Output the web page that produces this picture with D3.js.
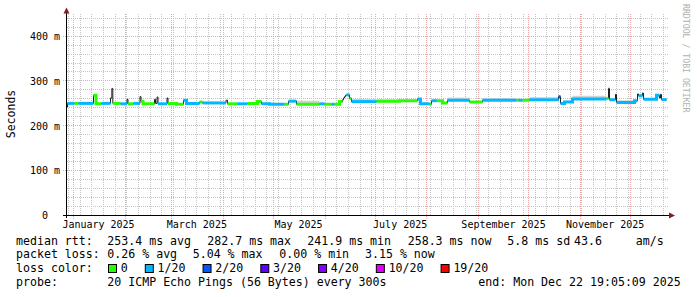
<!DOCTYPE html>
<html>
<head>
<meta charset="utf-8">
<script src="https://cdn.jsdelivr.net/npm/d3@7"></script>
<style>
body { margin: 0; background: #fff; }
svg { display: block; font-family: "DejaVu Sans Mono", monospace; }
</style>
</head>
<body>
<svg id="chart" width="697" height="297"></svg>
<script>
// loss buckets of the median line
var lossLabels = ["0", "1/20", "2/20", "3/20", "4/20", "10/20", "19/20"];
var lossColors = ["#26ff00", "#00b8ff", "#0059ff", "#5e00ff", "#7e00ff", "#dd00ff", "#ff0000"];

// axis ticks
var yTickValues = [0, 100, 200, 300, 400];
var yTickLabels = ["0  ", "100 m", "200 m", "300 m", "400 m"];
var xTickMonths = ["2025-01", "2025-03", "2025-05", "2025-07", "2025-09", "2025-11"];
var xTickLabels = ["January 2025", "March 2025", "May 2025", "July 2025", "September 2025", "November 2025"];

// median rtt as steps: start day (days since 2025-01-01), median ms, loss bucket, smoke top ms
var stepDay = [-4.2, -3.6, 0.6, 3.0, 12.0, 13.5, 16.8, 22.2, 23.0, 23.6, 28.2, 32.1, 32.7, 36.0, 39.9, 40.5,
  41.7, 48.6, 49.2, 50.1, 50.7, 56.1, 56.7, 61.8, 66.0, 67.8, 75.6, 77.4, 91.5, 92.4, 98.4, 104.4,
  110.4, 112.8, 117.6, 126.6, 129.0, 133.8, 147.6, 150.6, 154.8, 156.6, 159.6, 161.4, 162.0, 162.6,
  163.2, 163.8, 165.6, 166.8, 181.8, 195.6, 206.4, 208.2, 213.6, 214.8, 218.0, 221.4, 224.4, 237.6,
  245.4, 265.8, 267.0, 269.4, 273.6, 291.0, 292.2, 294.6, 299.4, 319.8, 321.0, 321.6, 325.2, 325.8,
  336.6, 338.4, 339.0, 341.4, 342.0, 349.8, 351.6, 352.2, 352.8];
var medianMs = [242, 250, 250, 250, 268, 249, 250, 262, 283, 250, 249, 259, 249, 250, 265, 255,
  249, 259, 250, 264, 249, 262, 250, 248, 257, 250, 253, 251, 257, 249, 249, 250,
  254, 249, 248, 248, 255, 248, 249, 248, 248, 248, 254, 258, 262, 265,
  268, 269, 261, 254, 255, 256, 260, 249, 248, 256, 256, 251, 257, 253,
  257, 257, 257, 257, 258, 265, 250, 253, 260, 261, 283, 258, 270, 252,
  256, 271, 267, 273, 259, 268, 262, 270, 258.3];
var lossIdx = [1, 1, 0, 1, 0, 0, 1, 1, 0, 0, 1, 0, 0, 1, 0, 0,
  0, 1, 1, 0, 1, 0, 0, 0, 1, 1, 0, 1, 1, 0, 1, 0,
  0, 1, 1, 0, 1, 0, 1, 0, 1, 0, 0, 0, 0, 0,
  0, 1, 0, 1, 0, 0, 1, 1, 0, 1, 0, 0, 1, 0,
  1, 0, 1, 0, 1, 2, 1, 1, 1, 0, 1, 1, 1, 1,
  1, 1, 1, 1, 1, 1, 1, 1, 1];
var smokeMs = [243, 251, 251, 251, 269, 250, 251, 263, 285, 251, 250, 260, 250, 251, 266, 256,
  250, 260, 251, 265, 250, 263, 251, 249, 258, 251, 254, 252, 258, 250, 250, 251,
  255, 250, 249, 249, 256, 256, 250, 249, 249, 249, 255, 259, 263, 266,
  269, 271, 262, 260, 259, 258, 261, 250, 249, 257, 257, 252, 263, 254,
  262, 259, 260, 260, 264, 266, 252, 256, 267, 263, 288, 261, 271, 257,
  258, 272, 268, 274, 262, 269, 263, 271, 261];

// legend figures
var rttStats = ["253.4 ms avg", "282.7 ms max", "241.9 ms min", "258.3 ms now", "5.8 ms sd", "43.6", "am/s"];
var lossStats = ["0.26 % avg", "5.04 % max", "0.00 % min", "3.15 % now"];
var probeText = "20 ICMP Echo Pings (56 Bytes) every 300s";
var endText = "end: Mon Dec 22 19:05:09 2025";

var DAY = 86400000;
var jan1 = Date.UTC(2025, 0, 1);
var tEnd = new Date(Date.UTC(2025, 11, 22, 19, 5, 9));
var tStart = new Date(tEnd.getTime() - 360 * DAY);
function dayToDate(d) { return new Date(jan1 + d * DAY); }
function crisp(v) { return Math.round(v - 0.5) + 0.5; }

var x = d3.scaleUtc().domain([tStart, tEnd]).range([66.5, 666.5]);
var y = d3.scaleLinear().domain([0, 450]).range([215.5, 13.7]);

var svg = d3.select("#chart");
svg.append("rect").attr("width", 697).attr("height", 297).attr("fill", "#fff");

// grid: dotted lines, one pixel on and one off
var majorX = x.ticks(d3.utcMonth);
var majorPx = majorX.map(function (d) { return crisp(x(d)); });
var minorX = x.ticks(d3.utcSunday).filter(function (d) {
  return majorPx.indexOf(crisp(x(d))) < 0;
});
var minorY = y.ticks(22).filter(function (v) { return v > 0 && v % 100 !== 0; });
var majorY = yTickValues.filter(function (v) { return v > 0; });
var grid = svg.append("g");
function hLines(vals, x0, color) {
  grid.append("g").selectAll("path").data(vals).enter().append("path")
    .attr("d", function (d) { var py = crisp(y(d)); return "M" + x0 + "," + py + "H668"; })
    .attr("stroke", color).attr("stroke-dasharray", "1,1").attr("fill", "none");
}
function vLines(vals, y1, color) {
  grid.append("g").selectAll("path").data(vals).enter().append("path")
    .attr("d", function (d) { var px = crisp(x(d)); return "M" + px + ",14V" + y1; })
    .attr("stroke", color).attr("stroke-dasharray", "1,1").attr("fill", "none");
}
hLines(minorY, 67, "#c4c4c4");
vLines(minorX, 215, "#c4c4c4");
hLines(majorY, 63, "#eaa8a8");
vLines(majorX, 219, "#eaa8a8");

// segments of the median series
var endDay = (tEnd.getTime() - jan1) / DAY;
var segs = stepDay.map(function (d, i) {
  return {
    t0: dayToDate(d),
    t1: dayToDate(i + 1 < stepDay.length ? stepDay[i + 1] : endDay),
    v: medianMs[i], loss: lossIdx[i], smoke: smokeMs[i]
  };
});

// smoke
svg.append("g").selectAll("rect").data(segs).enter().append("rect")
  .attr("x", function (s) { return x(s.t0); })
  .attr("width", function (s) { return x(s.t1) - x(s.t0); })
  .attr("y", function (s) { return y(s.smoke); })
  .attr("height", function (s) { return Math.max(0, y(s.v) - y(s.smoke)); })
  .attr("fill", "#d2d2d2");

// thin dark median line
var stepLine = d3.line().curve(d3.curveStepAfter)
  .x(function (p) { return x(p.t); })
  .y(function (p) { return y(p.v); });
var allPts = segs.map(function (s) { return { t: s.t0, v: s.v }; });
allPts.push({ t: tEnd, v: segs[segs.length - 1].v });
svg.append("path").attr("d", stepLine(allPts))
  .attr("fill", "none").attr("stroke", "#202020").attr("stroke-width", 1);

// coloured runs by loss bucket
var runs = [], cur = null;
segs.forEach(function (s, i) {
  if (x(s.t1) - x(s.t0) < 1.8) { cur = null; return; }
  if (cur && cur.loss === s.loss && cur.last === i - 1) {
    cur.segs.push(s); cur.last = i;
  } else {
    cur = { loss: s.loss, segs: [s], last: i };
    runs.push(cur);
  }
});
svg.append("g").selectAll("path").data(runs).enter().append("path")
  .attr("d", function (r) {
    var pts = r.segs.map(function (s) { return { t: s.t0, v: s.v }; });
    var last = r.segs[r.segs.length - 1];
    pts.push({ t: last.t1, v: last.v });
    return stepLine(pts);
  })
  .attr("fill", "none")
  .attr("stroke", function (r) { return lossColors[r.loss]; })
  .attr("stroke-width", 3);

// axes
var axes = svg.append("g").attr("shape-rendering", "crispEdges");
axes.append("line").attr("x1", 63).attr("x2", 670).attr("y1", 215.5).attr("y2", 215.5).attr("stroke", "#000");
axes.append("line").attr("x1", 66.5).attr("x2", 66.5).attr("y1", 13).attr("y2", 218).attr("stroke", "#000");
svg.append("path").attr("d", "M63.5,13.5L66.5,7.5L69.5,13.5Z").attr("fill", "#7f1f1f");
svg.append("path").attr("d", "M669,212.5L675,215.5L669,218.5Z").attr("fill", "#7f1f1f");

// y tick labels
svg.append("g").selectAll("text").data(yTickValues).enter().append("text")
  .attr("x", 60).attr("y", function (d) { return y(d) + 3.8; })
  .attr("text-anchor", "end").style("white-space", "pre")
  .attr("font-size", 10).attr("fill", "#000")
  .text(function (d, i) { return yTickLabels[i]; });

// x tick labels, centred half a month after the month start
var xLabelDates = xTickMonths.map(function (m) {
  var p = m.split("-");
  return new Date(Date.UTC(+p[0], +p[1] - 1, 1) + 15 * DAY);
});
svg.append("g").selectAll("text").data(xLabelDates).enter().append("text")
  .attr("x", function (d) { return x(d); }).attr("y", 228)
  .attr("text-anchor", "middle").attr("font-size", 10).attr("fill", "#000")
  .text(function (d, i) { return xTickLabels[i]; });

// y title
svg.append("text").attr("transform", "translate(14.5,114) rotate(-90)")
  .attr("text-anchor", "middle").attr("font-size", 11.5).attr("fill", "#000")
  .text("Seconds");

// watermark
svg.append("text").attr("transform", "translate(683,4) rotate(90)")
  .attr("font-size", 8.2).attr("fill", "#b0b0b0")
  .text("RRDTOOL / TOBI OETIKER");

// legend
var CW = 6.99;
var lg = svg.append("g").attr("font-size", 11.6).attr("fill", "#000").style("white-space", "pre");
function put(tx, px, py) { lg.append("text").attr("x", px).attr("y", py).text(tx); }
put("median rtt:", 16, 244.5);
var rttX = [107.3, 207.3, 307.3, 407.7, 507.3, 574, 635.7];
rttStats.forEach(function (s, i) { put(s, rttX[i], 244.5); });
put("packet loss:", 16, 258.3);
var lossX = [107.3, 192.7, 279.3, 365];
lossStats.forEach(function (s, i) { put(s, lossX[i], 258.3); });
put("loss color:", 16, 272);
var bx = 108.5;
lossLabels.forEach(function (l, i) {
  lg.append("rect").attr("x", bx).attr("y", 264.5).attr("width", 8).attr("height", 8)
    .attr("fill", lossColors[i]).attr("stroke", "#000").attr("stroke-width", 1);
  put(l, bx + 12.3, 272);
  bx += 12.3 + l.length * CW + 17.5;
});
put("probe:", 16, 286);
put(probeText, 107.3, 286);
put(endText, 478.3, 286);
</script>
</body>
</html>
